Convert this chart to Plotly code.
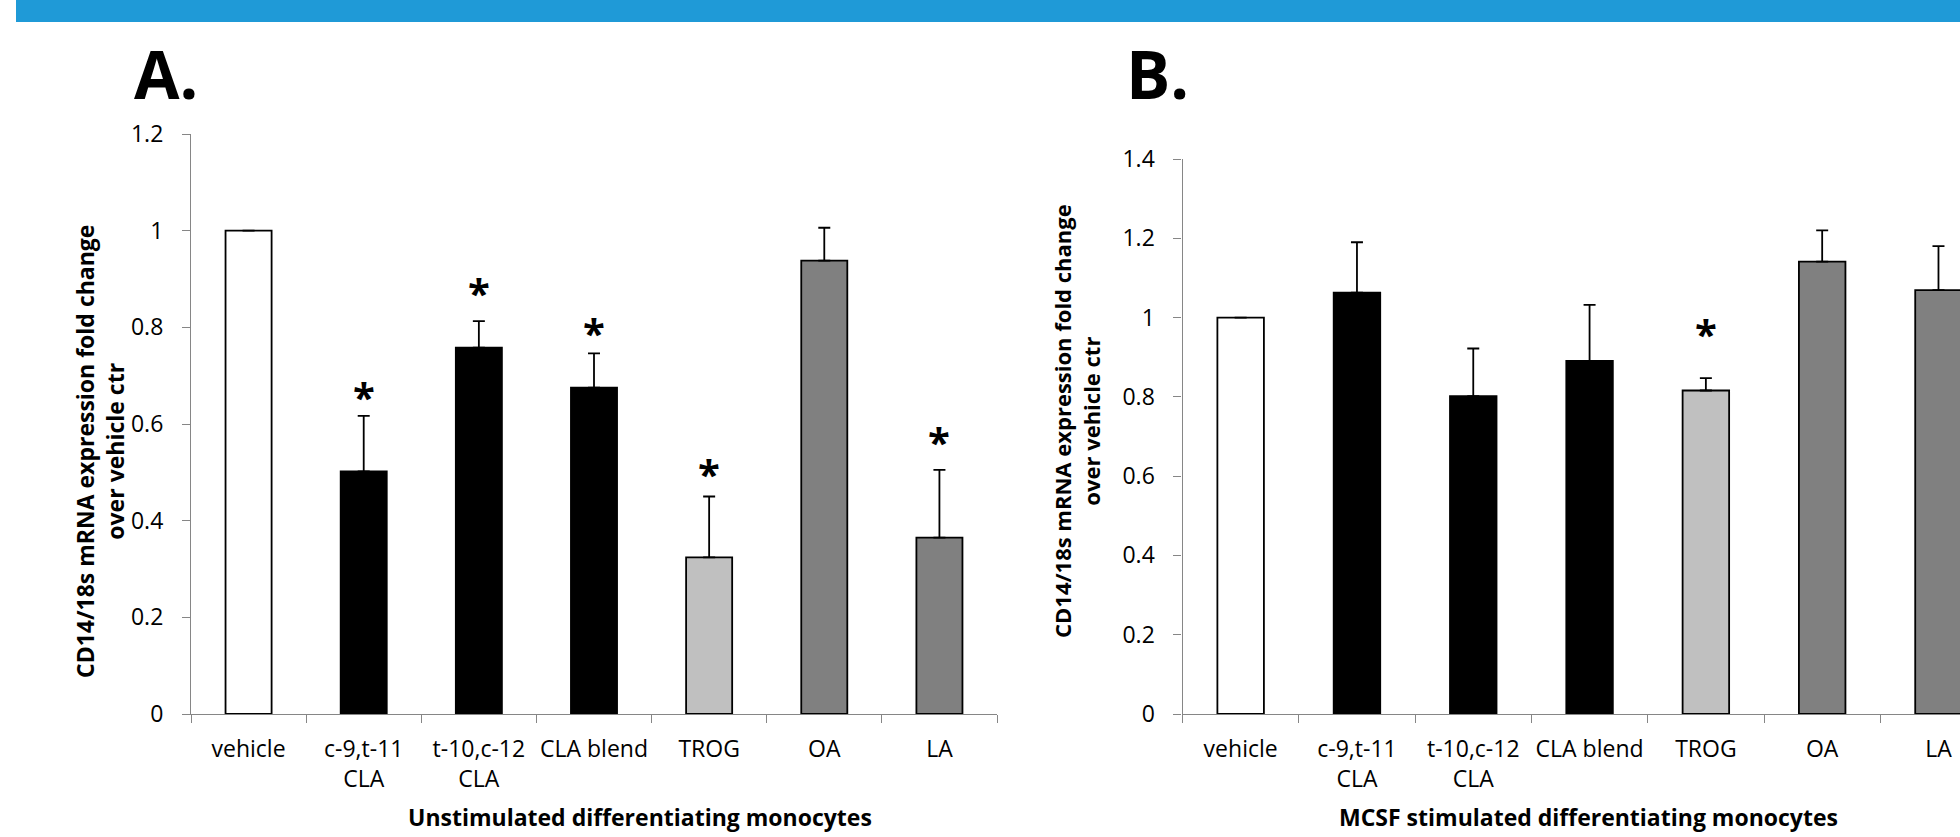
import plotly.graph_objects as go

# ---------------- data ----------------
categories = ["vehicle", "c-9,t-11<br>CLA", "t-10,c-12<br>CLA", "CLA blend", "TROG", "OA", "LA"]
bar_colors = ["#FFFFFF", "#000000", "#000000", "#000000", "#C0C0C0", "#808080", "#808080"]

# Panel A: unstimulated
a_values = [1.0, 0.502, 0.758, 0.675, 0.324, 0.938, 0.365]
a_errors = [0.0, 0.115, 0.055, 0.071, 0.126, 0.068, 0.140]
a_star_cats = ["c-9,t-11<br>CLA", "t-10,c-12<br>CLA", "CLA blend", "TROG", "LA"]
a_star_y = [0.673, 0.888, 0.806, 0.514, 0.580]

# Panel B: MCSF stimulated
b_values = [1.0, 1.063, 0.802, 0.891, 0.816, 1.141, 1.069]
b_errors = [0.0, 0.127, 0.120, 0.141, 0.031, 0.079, 0.111]
b_star_cats = ["TROG"]
b_star_y = [0.981]

a_yticks = [0, 0.2, 0.4, 0.6, 0.8, 1.0, 1.2]
a_yticklabels = ["0", "0.2", "0.4", "0.6", "0.8", "1", "1.2"]
b_yticks = [0, 0.2, 0.4, 0.6, 0.8, 1.0, 1.2, 1.4]
b_yticklabels = ["0", "0.2", "0.4", "0.6", "0.8", "1", "1.2", "1.4"]

y_title = "CD14/18s mRNA expression fold change<br>over vehicle ctr"
a_x_title = "Unstimulated differentiating monocytes"
b_x_title = "MCSF stimulated differentiating monocytes"

FONT = "Open Sans"
W, H = 1960, 837

fig = go.Figure()
star_annotations = []

def add_panel(values, errors, star_cats, star_y, xa, ya):
    fig.add_trace(go.Bar(
        x=categories, y=values, width=0.4,
        marker=dict(color=bar_colors, line=dict(color="#000000", width=1.8)),
        error_y=dict(type="data", array=errors, arrayminus=[0] * len(errors),
                     symmetric=False, color="#000000", thickness=1.8, width=6),
        xaxis=xa, yaxis=ya, showlegend=False, hoverinfo="skip",
    ))
    for c, yv in zip(star_cats, star_y):
        star_annotations.append(dict(
            text="*", x=c, y=yv, xref=xa, yref=ya, showarrow=False,
            xanchor="center", yanchor="middle", yshift=-8,
            font=dict(family=FONT, size=40, color="#000000", weight=700)))

add_panel(a_values, a_errors, a_star_cats, a_star_y, "x", "y")
add_panel(b_values, b_errors, b_star_cats, b_star_y, "x2", "y2")

axis_common = dict(showline=True, linecolor="#868686", linewidth=1.2, showgrid=False,
                   zeroline=False, ticks="outside", ticklen=8, tickcolor="#868686",
                   tickwidth=1.2, automargin=False,
                   tickfont=dict(family=FONT, size=23, color="#000000"))

y_bottom = (H - 714) / H

def title_font(size):
    return dict(family=FONT, size=size, color="#000000", weight=700)

title_annotations = [
    # x-axis titles
    dict(text=a_x_title, xref="paper", yref="paper", x=640 / W, y=1 - 817 / H,
         xanchor="center", yanchor="middle", showarrow=False, font=title_font(23)),
    dict(text=b_x_title, xref="paper", yref="paper", x=1588 / W, y=1 - 817 / H,
         xanchor="center", yanchor="middle", showarrow=False, font=title_font(23)),
    # y-axis titles
    dict(text=y_title, xref="paper", yref="paper", x=100 / W, y=1 - 452 / H,
         xanchor="center", yanchor="middle", showarrow=False, textangle=-90,
         font=title_font(23)),
    dict(text=y_title, xref="paper", yref="paper", x=1076 / W, y=1 - 421 / H,
         xanchor="center", yanchor="middle", showarrow=False, textangle=-90,
         font=title_font(22)),
    # panel letters
    dict(text="A.", xref="paper", yref="paper", x=132 / W, y=1 - 26 / H,
         xanchor="left", yanchor="top", showarrow=False, font=title_font(66)),
    dict(text="B.", xref="paper", yref="paper", x=1124 / W, y=1 - 26 / H,
         xanchor="left", yanchor="top", showarrow=False, font=title_font(66)),
]

fig.update_layout(
    template="none",
    width=W, height=H, margin=dict(l=0, r=0, t=0, b=0, pad=0),
    paper_bgcolor="#FFFFFF", plot_bgcolor="#FFFFFF",
    xaxis=dict(**axis_common, domain=[191 / W, 997 / W], type="category",
               categoryorder="array", categoryarray=categories,
               range=[-0.5, 6.5], tickson="boundaries", anchor="y",
               tickangle=0, ticklabelstandoff=14),
    yaxis=dict(**axis_common, domain=[y_bottom, (H - 134) / H], range=[0, 1.2],
               tickvals=a_yticks, ticktext=a_yticklabels, anchor="x",
               ticklabelstandoff=14),
    xaxis2=dict(**axis_common, domain=[1182.5 / W, 1.0], type="category",
                categoryorder="array", categoryarray=categories,
                range=[-0.5, 6.185], tickson="boundaries", anchor="y2",
                tickangle=0, ticklabelstandoff=14),
    yaxis2=dict(**axis_common, domain=[y_bottom, (H - 159) / H], range=[0, 1.4],
                tickvals=b_yticks, ticktext=b_yticklabels, anchor="x2",
                ticklabelstandoff=14),
    shapes=[dict(type="rect", xref="paper", yref="paper", x0=16 / W, x1=1.0,
                 y0=1 - 22 / H, y1=1.0, fillcolor="#1F9AD7", line=dict(width=0),
                 layer="above")],
    annotations=star_annotations + title_annotations,
)

fig.write_html("out.html")
